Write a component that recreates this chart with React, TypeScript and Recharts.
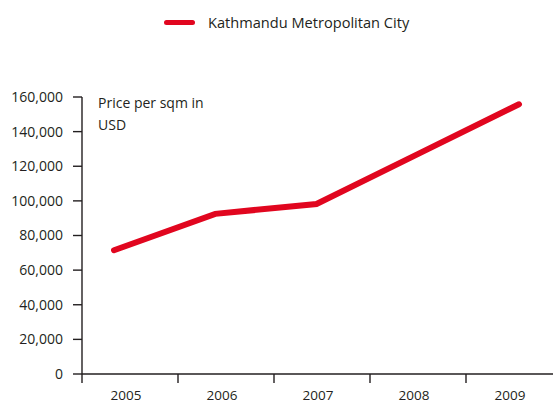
import React from "react";
import { LineChart, Line, XAxis, YAxis } from "recharts";

const years = [2005, 2006, 2007, 2008, 2009];
const prices = [71500, 92500, 98200, 127000, 155800];
const yTicks = [0, 20000, 40000, 60000, 80000, 100000, 120000, 140000, 160000];
const seriesName = "Kathmandu Metropolitan City";

const data = years.map((year, i) => ({ year, price: prices[i] }));

const RED = "#e1061f";
const INK = "#231f20";
const FONT = "'Open Sans', sans-serif";

// tick marks sit at band edges, labels are shifted right of them
const MARK_GAP = 96;
const LABEL_SHIFT = 44;

type TickProps = { x?: number; y?: number; payload?: { value: number } };

const YearTick = ({ x = 0, y = 0, payload }: TickProps) => (
  <text
    x={x + LABEL_SHIFT}
    y={y}
    dy="0.71em"
    textAnchor="middle"
    fontSize={13.5}
    fontFamily={FONT}
    fill={INK}
  >
    {payload?.value}
  </text>
);

const fmt = (v: number) => v.toLocaleString("en-US");

export default function App() {
  const W = 553;
  const H = 403;
  const axisLeft = 82;
  const markSpan = (W - axisLeft) / MARK_GAP;

  return (
    <div
      style={{
        position: "absolute",
        left: 0,
        top: 0,
        width: W,
        height: H,
        background: "#fff",
        fontFamily: FONT,
      }}
    >
      <div
        style={{
          position: "absolute",
          left: 164,
          top: 12,
          display: "flex",
          alignItems: "center",
          fontSize: 14.6,
          color: INK,
          whiteSpace: "nowrap",
        }}
      >
        <div
          style={{
            width: 31,
            height: 5,
            borderRadius: 3,
            background: RED,
            marginRight: 13,
          }}
        />
        <span>{seriesName}</span>
      </div>

      <div
        style={{
          position: "absolute",
          left: 98,
          top: 92,
          fontSize: 14,
          lineHeight: "22px",
          color: INK,
          zIndex: 2,
        }}
      >
        Price per sqm in
        <br />
        USD
      </div>

      <LineChart
        width={W}
        height={H}
        data={data}
        margin={{ top: 97, right: 0, bottom: 0, left: 0 }}
      >
        <XAxis
          xAxisId="marks"
          dataKey="year"
          type="number"
          domain={[years[0], years[0] + markSpan]}
          ticks={years}
          allowDataOverflow
          height={29}
          tickSize={9}
          tickMargin={7}
          axisLine={{ stroke: INK, strokeWidth: 1.4 }}
          tickLine={{ stroke: INK, strokeWidth: 1.4 }}
          tick={<YearTick />}
        />
        <XAxis
          xAxisId="year"
          dataKey="year"
          type="number"
          domain={[2004.684, 2009.336]}
          allowDataOverflow
          hide
        />
        <YAxis
          width={axisLeft}
          domain={[0, 160000]}
          ticks={yTicks}
          interval={0}
          allowDataOverflow
          tickFormatter={fmt}
          tickSize={9}
          tickMargin={10}
          axisLine={{ stroke: INK, strokeWidth: 1.4 }}
          tickLine={{ stroke: INK, strokeWidth: 1.4 }}
          tick={{ fontSize: 14, fontFamily: FONT, fill: INK }}
        />
        <Line
          xAxisId="year"
          dataKey="price"
          name={seriesName}
          stroke={RED}
          strokeWidth={6}
          strokeLinecap="round"
          dot={false}
          activeDot={false}
          isAnimationActive={false}
        />
      </LineChart>
    </div>
  );
}
